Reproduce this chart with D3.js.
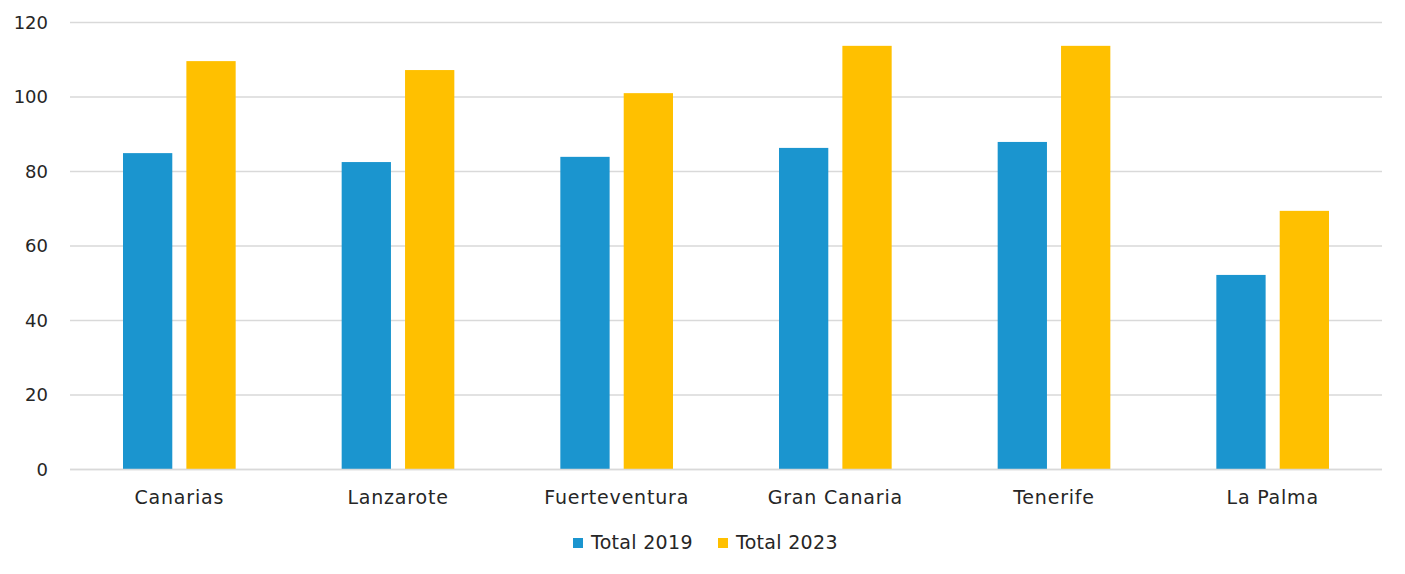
<!DOCTYPE html>
<html><head><meta charset="utf-8">
<script src="https://cdn.jsdelivr.net/npm/d3@7"></script>
<style>
html,body{margin:0;padding:0;background:#fff;}
svg{display:block;}
text{font-family:"DejaVu Sans",sans-serif;fill:#262626;}
</style></head>
<body>
<svg id="chart" width="1405" height="574"></svg>
<script>
const categories = ["Canarias","Lanzarote","Fuerteventura","Gran Canaria","Tenerife","La Palma"];
const seriesNames = ["Total 2019","Total 2023"];
const values2019 = [84.8, 82.4, 83.8, 86.2, 87.8, 52.1];
const values2023 = [109.5, 107.1, 100.9, 113.6, 113.6, 69.3];
const yTicks = [0,20,40,60,80,100,120];
const colors = ["#1B95CF","#FFC000"];

(function(){
const svg = d3.select("#chart");
const mLeft = 70, mRight = 1382, mTop = 22, mBottom = 469;

const x = d3.scaleBand().domain(categories).range([mLeft,mRight]).paddingInner(0).paddingOuter(0);
const x1 = d3.scaleBand().domain(seriesNames).range([53, x.bandwidth()-53]).paddingInner(14/63);
const y = d3.scaleLinear().domain([0,120]).range([mBottom,mTop]);

// gridlines
svg.append("g").selectAll("line").data(yTicks).join("line")
  .attr("x1",mLeft).attr("x2",mRight)
  .attr("y1",d=>y(d)+0.5).attr("y2",d=>y(d)+0.5)
  .attr("stroke","#d9d9d9").attr("stroke-width",1.3);

// y axis labels
const yAxis = d3.axisLeft(y).tickValues(yTicks).tickSize(0).tickPadding(0);
const gy = svg.append("g").attr("transform",`translate(${mLeft-22},0)`).call(yAxis);
gy.select(".domain").remove();
gy.selectAll("text").attr("font-size",18).attr("font-family","DejaVu Sans").attr("fill","#262626").attr("dy","0.36em");

const data = categories.map((c,i)=>({cat:c, vals:[values2019[i], values2023[i]]}));

const groups = svg.append("g").selectAll("g").data(data).join("g")
  .attr("transform",d=>`translate(${x(d.cat)},0)`);
groups.selectAll("rect").data(d=>d.vals.map((v,j)=>({s:seriesNames[j],v,j}))).join("rect")
  .attr("x",d=>x1(d.s)).attr("width",x1.bandwidth())
  .attr("y",d=>y(d.v)).attr("height",d=>mBottom-y(d.v))
  .attr("fill",d=>colors[d.j]);

// baseline
svg.append("line").attr("x1",mLeft).attr("x2",mRight).attr("y1",mBottom+0.5).attr("y2",mBottom+0.5)
  .attr("stroke","#d9d9d9").attr("stroke-width",1.3);

// x axis labels
const xAxis = d3.axisBottom(x).tickSize(0).tickPadding(0);
const gx = svg.append("g").attr("transform",`translate(0,504)`).call(xAxis);
gx.select(".domain").remove();
gx.selectAll("text").attr("font-size",19).attr("font-family","DejaVu Sans").attr("fill","#262626")
  .attr("y",0).attr("dy","0").attr("letter-spacing","0.8px");

// legend
const legendX = [573, 718];
const lg = svg.append("g").selectAll("g").data(seriesNames).join("g")
  .attr("transform",(d,i)=>`translate(${legendX[i]},538)`);
lg.append("rect").attr("width",10).attr("height",10).attr("fill",(d,i)=>colors[i]);
lg.append("text").attr("x",18).attr("y",11).attr("font-size",19).attr("letter-spacing","0.3px").text(d=>d);
})();
</script>
</body></html>
